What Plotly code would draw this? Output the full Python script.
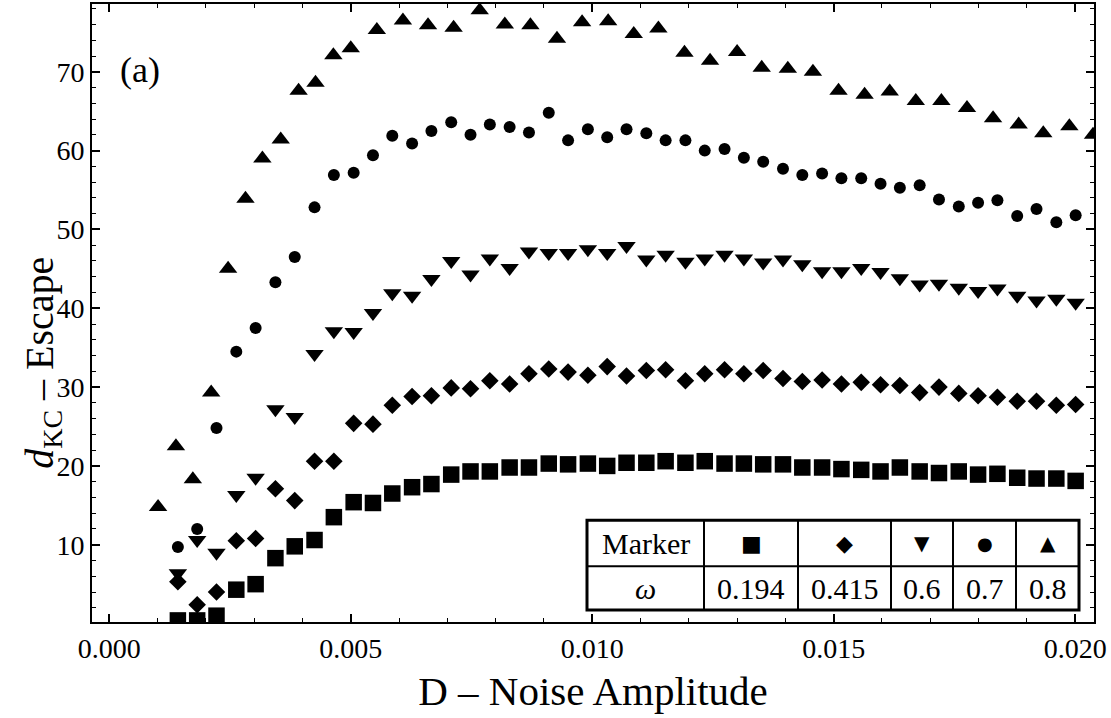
import plotly.graph_objects as go

# ---------------- data ----------------
D_grid = [0.00142, 0.00182, 0.00222, 0.00263, 0.00303, 0.00344, 0.00384, 0.00425,
          0.00465, 0.00506, 0.00546, 0.00586, 0.00627, 0.00667, 0.00708, 0.00748,
          0.00788, 0.00829, 0.00869, 0.00910, 0.00950, 0.00991, 0.01031, 0.01071,
          0.01112, 0.01152, 0.01193, 0.01233, 0.01274, 0.01314, 0.01354, 0.01395,
          0.01435, 0.01476, 0.01516, 0.01557, 0.01597, 0.01637, 0.01678, 0.01718,
          0.01759, 0.01799, 0.01839, 0.01880, 0.01920, 0.01961, 0.02001]

D_tri = [0.00101, 0.00138, 0.00173, 0.00211, 0.00246, 0.00282, 0.00317, 0.00355,
         0.00392, 0.00427, 0.00464, 0.00500, 0.00554, 0.00608, 0.00660, 0.00713,
         0.00767, 0.00819, 0.00872, 0.00927, 0.00979, 0.01033, 0.01086, 0.01137,
         0.01191, 0.01244, 0.01300, 0.01351, 0.01405, 0.01457, 0.01510, 0.01564,
         0.01616, 0.01670, 0.01723, 0.01776, 0.01830, 0.01883, 0.01934, 0.01988,
         0.02037]

w0194 = [0.4, 0.4, 1.0, 4.3, 5.0, 8.3, 9.8, 10.6, 13.5, 15.4, 15.3, 16.5, 17.3, 17.7,
         18.9, 19.3, 19.3, 19.8, 19.8, 20.3, 20.2, 20.3, 20.0, 20.4, 20.4, 20.6, 20.4,
         20.6, 20.3, 20.3, 20.2, 20.2, 19.8, 19.8, 19.6, 19.5, 19.3, 19.8, 19.3, 19.1,
         19.3, 18.9, 19.0, 18.5, 18.4, 18.4, 18.1]

w0415 = [5.3, 2.4, 4.0, 10.5, 10.8, 17.1, 15.6, 20.6, 20.6, 25.4, 25.3, 27.7, 28.8,
         28.9, 29.9, 29.8, 30.8, 30.4, 31.7, 32.3, 31.9, 31.5, 32.6, 31.4, 32.1, 32.2,
         30.8, 31.7, 32.2, 31.7, 32.1, 31.1, 30.7, 30.9, 30.4, 30.6, 30.3, 30.2, 29.3,
         30.0, 29.2, 28.9, 28.7, 28.2, 28.2, 27.7, 27.8]

w06 = [6.4, 10.6, 9.0, 16.3, 18.5, 27.2, 26.2, 34.2, 37.1, 37.0, 39.4, 41.9, 41.6,
       43.7, 46.0, 44.3, 46.3, 45.1, 47.2, 47.0, 47.0, 47.5, 47.0, 47.9, 46.2, 46.8,
       45.9, 46.3, 46.8, 46.3, 45.8, 46.2, 45.6, 44.7, 44.7, 45.1, 44.6, 43.8, 43.0,
       43.1, 42.6, 42.2, 42.5, 41.6, 41.0, 41.2, 40.7]

w07 = [9.7, 12.0, 24.8, 34.5, 37.5, 43.3, 46.5, 52.8, 56.9, 57.2, 59.4, 61.9, 60.9,
       62.5, 63.6, 62.0, 63.3, 63.0, 62.3, 64.8, 61.3, 62.7, 61.7, 62.7, 62.2, 61.3,
       61.3, 60.0, 60.2, 59.1, 58.6, 57.7, 56.9, 57.1, 56.5, 56.5, 55.8, 55.3, 55.6,
       53.8, 52.9, 53.4, 53.7, 51.7, 52.6, 50.9, 51.8]

w08 = [14.8, 22.5, 18.3, 29.3, 45.0, 53.9, 59.0, 61.4, 67.6, 68.6, 72.1, 73.0, 75.3,
       76.5, 75.9, 75.6, 77.8, 76.0, 75.9, 74.2, 76.3, 76.4, 74.8, 75.5, 72.4, 71.4,
       72.5, 70.5, 70.4, 70.0, 67.6, 67.1, 67.5, 66.3, 66.3, 65.4, 64.1, 63.3, 62.2,
       63.1, 62.0]

omega_labels = ["0.194", "0.415", "0.6", "0.7", "0.8"]
marker_glyphs = ["\u25A0", "\u25C6", "\u25BC", "\u25CF", "\u25B2"]
x_ticks = [0.0, 0.005, 0.010, 0.015, 0.020]
x_ticktext = ["0.000", "0.005", "0.010", "0.015", "0.020"]
y_ticks = [10, 20, 30, 40, 50, 60, 70]

# ---------------- figure ----------------
FONT = "Liberation Serif"
W, H = 1111, 718
L, R, T, B = 92, 17, 2, 96
PW, PH = W - L - R, H - T - B


def px(x):
    return (x - L) / PW


def py(y):
    return (H - B - y) / PH


fig = go.Figure()
series = [
    (D_grid, w0194, "square", 16.5),
    (D_grid, w0415, "diamond", 13.5),
    (D_grid, w06, "triangle-down", 16),
    (D_grid, w07, "circle", 12),
    (D_tri, w08, "triangle-up", 16),
]
for xs, ys, sym, sz in series:
    fig.add_trace(go.Scatter(x=xs, y=ys, mode="markers", cliponaxis=True,
                             marker=dict(symbol=sym, size=sz, color="black",
                                         line=dict(width=0)),
                             showlegend=False, hoverinfo="skip"))

axis_common = dict(showline=True, linewidth=2, linecolor="black", mirror="ticks",
                   ticks="inside", ticklen=8, tickwidth=1.5, tickcolor="black",
                   showgrid=False, zeroline=False,
                   tickfont=dict(family=FONT, size=28, color="black"))

fig.update_xaxes(range=[-0.000358, 0.02039], tickvals=x_ticks, ticktext=x_ticktext,
                 minor=dict(dtick=0.001, ticklen=4, tickwidth=1, tickcolor="black",
                            ticks="inside"),
                 title=dict(text="D \u2013 Noise Amplitude",
                            font=dict(family=FONT, size=41, color="black"),
                            standoff=14),
                 **axis_common)
fig.update_yaxes(range=[0.2, 78.6], tickvals=y_ticks,
                 minor=dict(dtick=2, ticklen=4, tickwidth=1, tickcolor="black",
                            ticks="inside"),
                 **axis_common)

# ---------------- table ----------------
col_edges = [587, 704, 798, 891, 953, 1016, 1079]
row_edges = [520, 566, 610]
shapes = []
shapes.append(dict(type="rect", xref="paper", yref="paper",
                   x0=px(col_edges[0]), x1=px(col_edges[-1]),
                   y0=py(row_edges[-1]), y1=py(row_edges[0]),
                   line=dict(color="black", width=3), fillcolor="white",
                   layer="above"))
for cx in col_edges[1:-1]:
    shapes.append(dict(type="line", xref="paper", yref="paper",
                       x0=px(cx), x1=px(cx), y0=py(row_edges[-1]), y1=py(row_edges[0]),
                       line=dict(color="black", width=2), layer="above"))
shapes.append(dict(type="line", xref="paper", yref="paper",
                   x0=px(col_edges[0]), x1=px(col_edges[-1]),
                   y0=py(row_edges[1]), y1=py(row_edges[1]),
                   line=dict(color="black", width=2), layer="above"))

annotations = []


def add_text(text, x, y, size, family=FONT, angle=0):
    annotations.append(dict(text=text, x=px(x), y=py(y), xref="paper", yref="paper",
                            xanchor="center", yanchor="middle", showarrow=False,
                            textangle=angle,
                            font=dict(family=family, size=size, color="black")))


row1_y = (row_edges[0] + row_edges[1]) / 2
row2_y = (row_edges[1] + row_edges[2]) / 2
centers = [(col_edges[i] + col_edges[i + 1]) / 2 for i in range(len(col_edges) - 1)]
add_text("Marker", centers[0], row1_y, 30)
add_text("<i>\u03c9</i>", centers[0], row2_y, 30)
glyph_sizes = [22, 22, 20, 18, 20]
for i, (g, lab) in enumerate(zip(marker_glyphs, omega_labels)):
    add_text(g, centers[i + 1], row1_y, glyph_sizes[i], family="DejaVu Sans")
    add_text(lab, centers[i + 1], row2_y, 30)

add_text("(a)", 140, 68, 36)
add_text("<i>d</i><sub>KC</sub> \u2013 Escape", 42, 362, 40, angle=-90)

fig.update_layout(width=W, height=H, margin=dict(l=L, r=R, t=T, b=B),
                  paper_bgcolor="white", plot_bgcolor="white",
                  shapes=shapes, annotations=annotations)

fig.write_html("out.html", config={"displayModeBar": False},
               post_script="document.body.style.margin='0px';"
                           "document.body.style.overflow='hidden';")
